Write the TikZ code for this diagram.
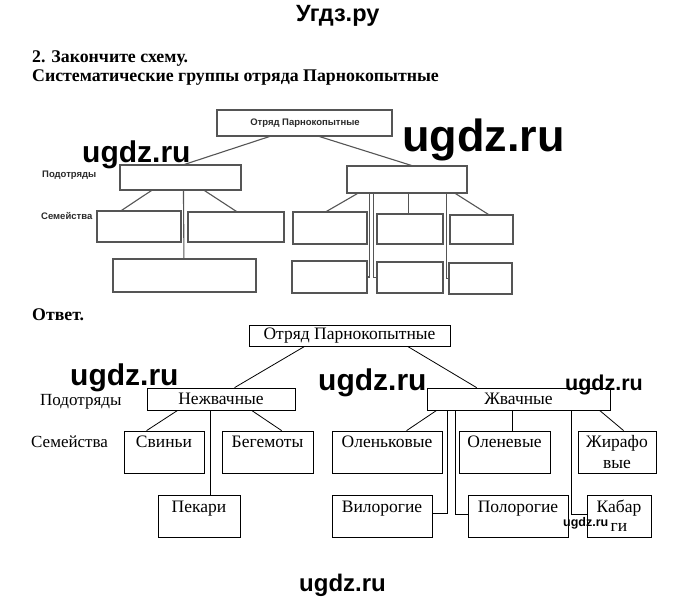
\documentclass[tikz,border=0pt]{standalone}
\usepackage{fontspec}
\setmainfont{Liberation Serif}
\newfontfamily\sansf{Liberation Sans}
\definecolor{tgray}{HTML}{555555}
\definecolor{tlabel}{HTML}{2A2A2A}
\newcommand\wmf[1]{\sansf\bfseries\fontsize{#1}{#1}\selectfont}
\begin{document}
\begin{tikzpicture}[x=1pt,y=-1pt,
  box/.style={draw=black,line width=0.8pt,rectangle,inner sep=0pt},
  gbox/.style={draw=tgray,line width=1.1pt,rectangle,inner sep=0pt},
  conn/.style={draw=black,line width=0.8pt},
  gconn/.style={draw=tgray,line width=1.1pt},
  txt/.style={inner sep=0pt,anchor=base,font=\fontsize{17.5}{20}\selectfont},
  ltxt/.style={inner sep=0pt,anchor=base west,font=\fontsize{17}{20}\selectfont},
  head/.style={inner sep=0pt,anchor=base west,font=\bfseries\fontsize{17.8}{20}\selectfont},
  gtxt/.style={inner sep=0pt,anchor=base west,text=tlabel,font=\sansf\bfseries\fontsize{9.5}{11}\selectfont},
  wm/.style={inner sep=0pt,anchor=base west}]
\useasboundingbox (0,0) rectangle (680,604);
\fill[white] (0,0) rectangle (680,604);

% title and headings
\node[wm,font=\wmf{23.5}] (title) at (296,21.5) {Угдз.ру};
\node[head] (h1) at (32,63) {2. Закончите схему.};
\node[head] (h2) at (32,82) {Систематические группы отряда Парнокопытные};

% ---------- top (empty) diagram ----------
\node[gbox,minimum width=175pt,minimum height=26pt] (troot) at (304.5,123) {};
\node[inner sep=0pt,text=tlabel,font=\sansf\bfseries\fontsize{9.5}{11}\selectfont] (troottxt) at (305,123) {Отряд Парнокопытные};
\node[gbox,minimum width=121pt,minimum height=25pt] (tsubL) at (180.5,177.5) {};
\node[gbox,minimum width=120pt,minimum height=27pt] (tsubR) at (407,179.5) {};
\node[gbox,minimum width=84pt,minimum height=31pt] (tA) at (139,226.5) {};
\node[gbox,minimum width=96pt,minimum height=30pt] (tB) at (236,227) {};
\node[gbox,minimum width=143pt,minimum height=33pt] (tC) at (184.5,275.5) {};
\node[gbox,minimum width=74pt,minimum height=32pt] (tD) at (330,228) {};
\node[gbox,minimum width=66pt,minimum height=30pt] (tF1) at (410,229) {};
\node[gbox,minimum width=63pt,minimum height=29pt] (tG) at (481.5,229.5) {};
\node[gbox,minimum width=75pt,minimum height=32pt] (tE) at (329.5,277) {};
\node[gbox,minimum width=66pt,minimum height=31pt] (tF) at (410,277.5) {};
\node[gbox,minimum width=63pt,minimum height=31pt] (tH) at (480.5,278.5) {};
\node[gtxt] (tpod) at (42,177.5) {Подотряды};
\node[gtxt] (tsem) at (41,219.5) {Семейства};

\draw[gconn] ([xshift=53pt]troot.south west) -- ([xshift=65pt]tsubL.north west);
\draw[gconn] ([xshift=103pt]troot.south west) -- ([xshift=65pt]tsubR.north west);
\draw[gconn] ([xshift=32pt]tsubL.south west) -- ([xshift=25pt]tA.north west);
\draw[gconn] ([xshift=85pt]tsubL.south west) -- ([xshift=49pt]tB.north west);
\draw[gconn] ([xshift=64pt]tsubL.south west) -- ([xshift=71.5pt]tC.north west);
\draw[gconn] ([xshift=11pt]tsubR.south west) -- ([xshift=34pt]tD.north west);
\draw[gconn] ([xshift=23pt]tsubR.south west) |- (tE.east);
\draw[gconn] ([xshift=27pt]tsubR.south west) |- (tF.west);
\draw[gconn] ([xshift=62pt]tsubR.south west) -- ([xshift=32pt]tF1.north west);
\draw[gconn] ([xshift=100pt]tsubR.south west) |- (tH.west);
\draw[gconn] ([xshift=109pt]tsubR.south west) -- ([xshift=39pt]tG.north west);

% ---------- answer ----------
\node[head] (otv) at (32,320) {Ответ.};

\node[box,minimum width=201pt,minimum height=21pt,font=\fontsize{17.5}{20}\selectfont] (root) at (349.5,335.5) {Отряд Парнокопытные};
\node[box,minimum width=148pt,minimum height=22pt,font=\fontsize{17.5}{20}\selectfont] (nez) at (221,399) {Нежвачные};
\node[box,minimum width=183pt,minimum height=22pt,font=\fontsize{17.5}{20}\selectfont] (zhv) at (518.5,399) {Жвачные};

\node[box,minimum width=80pt,minimum height=42pt] (svin) at (164,452) {};
\node[box,minimum width=91pt,minimum height=42pt] (beg) at (267.5,452) {};
\node[box,minimum width=82pt,minimum height=42pt] (pek) at (199,516) {};
\node[box,minimum width=110pt,minimum height=42pt] (olk) at (387,452) {};
\node[box,minimum width=91pt,minimum height=42pt] (oln) at (504.5,452) {};
\node[box,minimum width=78pt,minimum height=42pt] (zhir) at (617,452) {};
\node[box,minimum width=100pt,minimum height=42pt] (vil) at (382,516) {};
\node[box,minimum width=100pt,minimum height=42pt] (pol) at (518,516) {};
\node[box,minimum width=64pt,minimum height=42pt] (kab) at (619,516) {};

\node[txt] (tsvin) at (164,447.5) {Свиньи};
\node[txt] (tbeg) at (267.5,447.5) {Бегемоты};
\node[txt] (tpek) at (199,512) {Пекари};
\node[txt] (tolk) at (387,447.5) {Оленьковые};
\node[txt] (toln) at (504.5,447.5) {Оленевые};
\node[txt] (tzhir1) at (617,447.5) {Жирафо};
\node[txt] (tzhir2) at (617,468) {вые};
\node[txt] (tvil) at (382,512) {Вилорогие};
\node[txt] (tpol) at (518,512) {Полорогие};
\node[txt] (tkab1) at (619,512) {Кабар};
\node[txt] (tkab2) at (619,531) {ги};

\node[ltxt] (pod) at (40,405) {Подотряды};
\node[ltxt] (sem) at (31,447) {Семейства};

\draw[conn] ([xshift=56pt]root.south west) -- ([xshift=88pt]nez.north west);
\draw[conn] ([xshift=159pt]root.south west) -- ([xshift=50pt]zhv.north west);
\draw[conn] ([xshift=31pt]nez.south west) -- ([xshift=23pt]svin.north west);
\draw[conn] ([xshift=105pt]nez.south west) -- ([xshift=60pt]beg.north west);
\draw[conn] ([xshift=64pt]nez.south west) -- ([xshift=53pt]pek.north west);
\draw[conn] ([xshift=10pt]zhv.south west) -- ([xshift=75pt]olk.north west);
\draw[conn] ([xshift=86pt]zhv.south west) -- ([xshift=54pt]oln.north west);
\draw[conn] ([xshift=173pt]zhv.south west) -- ([xshift=46pt]zhir.north west);
\draw[conn] ([xshift=21pt]zhv.south west) |- ([yshift=3pt]vil.east);
\draw[conn] ([xshift=29pt]zhv.south west) |- ([yshift=2pt]pol.west);
\draw[conn] ([xshift=145pt]zhv.south west) |- ([yshift=2pt]kab.west);

% watermarks
\node[wm,font=\wmf{30}] (wm1) at (82,163) {ugdz.ru};
\node[wm,font=\wmf{45}] (wm2) at (402,152) {ugdz.ru};
\node[wm,font=\wmf{30}] (wm3) at (70,385) {ugdz.ru};
\node[wm,font=\wmf{30}] (wm4) at (318,390) {ugdz.ru};
\node[wm,font=\wmf{21.5}] (wm5) at (565,390) {ugdz.ru};
\node[wm,font=\wmf{12.5}] (wm6) at (563,526) {ugdz.ru};
\node[wm,font=\wmf{24}] (wm7) at (299,591) {ugdz.ru};
\end{tikzpicture}
\end{document}
